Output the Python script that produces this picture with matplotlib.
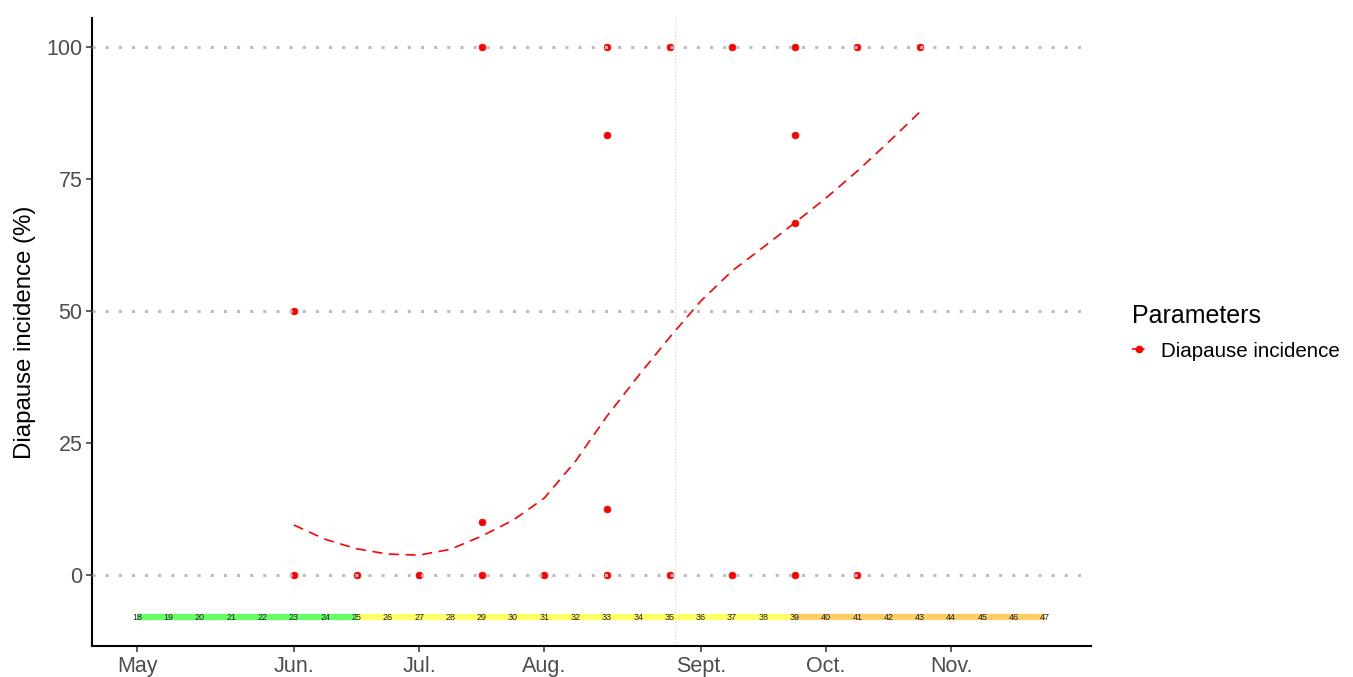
import matplotlib
matplotlib.use("Agg")
import matplotlib.pyplot as plt
from matplotlib.lines import Line2D

plt.rcParams['font.family'] = ['Liberation Sans', 'DejaVu Sans']

# observed diapause incidence (week number, %)
obs_weeks = [23, 23, 25, 27, 29, 29, 29, 31, 33, 33, 33, 33, 35, 35,
             37, 37, 39, 39, 39, 39, 41, 41, 43]
obs_values = [0, 50, 0, 0, 0, 10, 100, 0, 0, 12.5, 83.3, 100, 0, 100,
              0, 100, 0, 66.7, 83.3, 100, 0, 100, 100]

# smoothed trend
trend_weeks = [23, 24, 25, 26, 27, 28, 29, 30, 31, 32, 33, 34, 35, 36,
               37, 38, 39, 40, 41, 42, 43]
trend_values = [9.5, 6.8, 5.0, 4.0, 3.8, 4.9, 7.4, 10.4, 14.6, 21.6, 30.1,
                37.7, 45.0, 51.9, 57.6, 62.1, 66.7, 71.4, 76.5, 82.0, 87.7]

# week band under the data
band_weeks = list(range(18, 48))
band_segments = [(18, 25, '#66ff66'), (25, 39, '#ffff66'), (39, 47, '#ffcc66')]
band_level = -8

month_ticks = [18, 23, 27, 31, 36, 40, 44]
month_labels = ['May', 'Jun.', 'Jul.', 'Aug.', 'Sept.', 'Oct.', 'Nov.']
y_ticks = [0, 25, 50, 75, 100]
grid_levels = [0, 50, 100]
marker_week = 35.17

fig = plt.figure(figsize=(13.53, 6.77), dpi=100)
ax = fig.add_axes([0.068, 0.0458, 0.738, 0.927])

# horizontal dotted guides
for lvl in grid_levels:
    ax.axhline(lvl, color='#bdbdbd', linestyle=(0, (1, 3.3)), linewidth=2.2, zorder=3)
ax.axvline(marker_week, color='#d0d0d0', linestyle=(0, (1, 2)), linewidth=0.8, zorder=1)

# coloured week band with labels
for start, end, col in band_segments:
    ax.plot([start, end], [band_level, band_level], color=col, linewidth=4.5,
            solid_capstyle='butt', zorder=1)
for w in band_weeks:
    ax.text(w, band_level, str(w), fontsize=6.5, ha='center', va='center',
            color='#222222', zorder=2)

ax.plot(trend_weeks, trend_values, color='red', linestyle=(0, (6, 4)),
        linewidth=1.2, zorder=2)
ax.scatter(obs_weeks, obs_values, s=24, color='red', edgecolors='red',
           linewidths=0.5, zorder=2)

ax.set_xlim(16.55, 48.45)
ax.set_ylim(-13.4, 105.4)
ax.set_xticks(month_ticks)
ax.set_xticklabels(month_labels)
ax.set_yticks(y_ticks)
ax.tick_params(axis='both', labelsize=15.5, labelcolor='#4d4d4d', color='#333333',
               length=4, width=1.1, pad=3)
for side in ['top', 'right']:
    ax.spines[side].set_visible(False)
for side in ['left', 'bottom']:
    ax.spines[side].set_linewidth(1.5)
    ax.spines[side].set_color('black')
ax.set_ylabel('Diapause incidence (%)', fontsize=17.3, labelpad=7)

handle = Line2D([0], [0], color='red', linestyle=(0, (3, 1.5)), linewidth=1.2,
                marker='o', markersize=4.5)
leg = fig.legend([handle], ['Diapause incidence'], title='Parameters',
                 loc='upper left', bbox_to_anchor=(0.823, 0.578), frameon=False,
                 fontsize=14.8, title_fontsize=18, handlelength=0.7,
                 handletextpad=0.7, alignment='left', labelspacing=0.65)

fig.savefig('out.png', dpi=100)
